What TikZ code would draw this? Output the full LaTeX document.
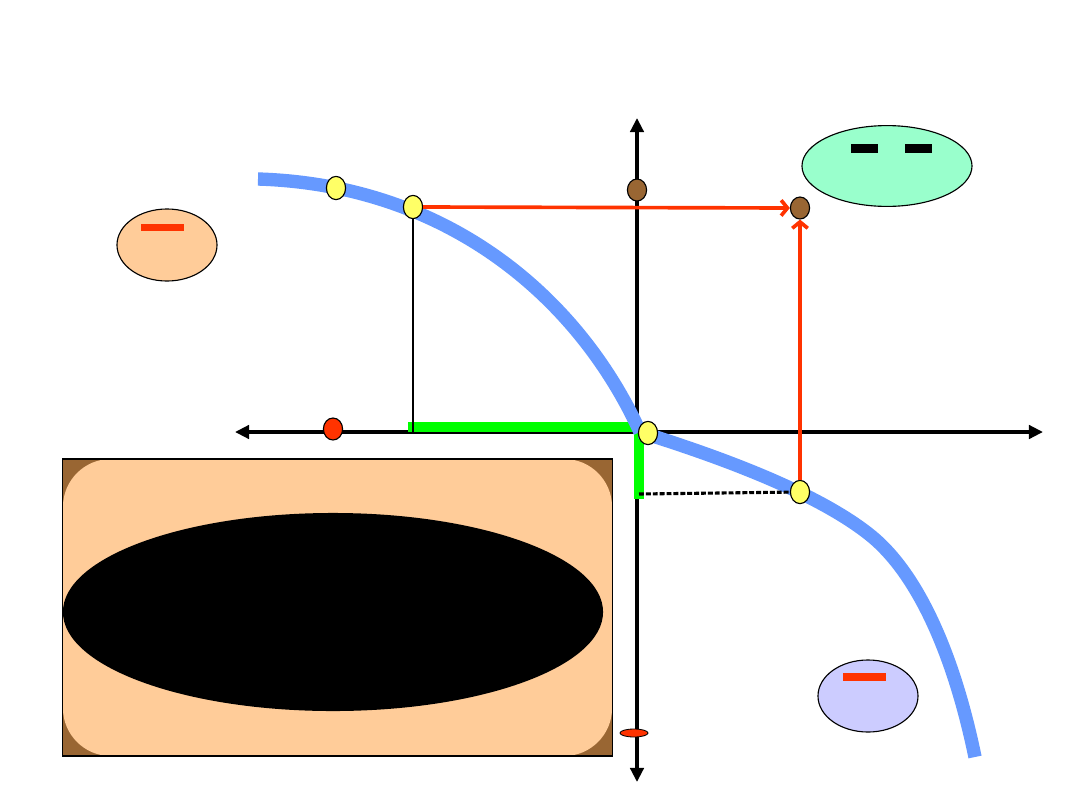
\documentclass[tikz,border=0pt]{standalone}
\usepackage{tikz}
\usepackage{xcolor}
\usetikzlibrary{arrows.meta,shapes.geometric}
\definecolor{CurveBlue}{HTML}{6699FF}
\definecolor{DotYellow}{HTML}{FFFF66}
\definecolor{DotBrown}{HTML}{996633}
\definecolor{LineRed}{HTML}{FF3300}
\definecolor{PathGreen}{HTML}{00FF00}
\definecolor{MintFill}{HTML}{99FFCC}
\definecolor{PeachFill}{HTML}{FFCC99}
\definecolor{LilacFill}{HTML}{CCCCFF}

\begin{document}
\begin{tikzpicture}[
    x=0.025cm,y=-0.025cm,
    axis/.style={{Triangle[length=10pt,width=9.5pt]}-{Triangle[length=10pt,width=9.5pt]},
      line width=2.4pt,draw=black},
    curve/.style={draw=CurveBlue,line width=9.5pt,line join=round},
    gpath/.style={draw=PathGreen,line width=7.6pt,line join=miter},
    rarrow/.style={-{Straight Barb[length=4.5pt,width=11pt]},draw=LineRed,line width=2.6pt},
    drop/.style={draw=black,line width=1.4pt},
    dashline/.style={draw=black,line width=2.2pt,dash pattern=on 3.5pt off 1.4pt},
    dot/.style={ellipse,draw=black,line width=0.8pt,inner sep=0pt,
      minimum width=0.48cm,minimum height=0.58cm},
    ydot/.style={dot,fill=DotYellow},
    bdot/.style={dot,fill=DotBrown,minimum height=0.55cm},
    rdot/.style={dot,fill=LineRed,minimum height=0.55cm},
    blob/.style={ellipse,draw=black,line width=0.8pt,inner sep=0pt},
    bar/.style={rectangle,inner sep=0pt,minimum height=0.2cm}
  ]
    \useasboundingbox (0,0) rectangle (1080,810);

    \node[rectangle,fill=DotBrown,inner sep=0pt,minimum width=13.725cm,minimum height=7.425cm] (panel) at (337.5,607.5) {};
    \node[rectangle,fill=PeachFill,rounded corners=1.2cm,inner sep=0pt,minimum width=13.725cm,minimum height=7.425cm] (inner) at (337.5,607.5) {};
    \node[ellipse,fill=black,inner sep=0pt,minimum width=13.5cm,minimum height=4.95cm] (hole) at (333,612) {};
    \draw[line width=1.2pt] (panel.north west) rectangle (panel.south east);

    \coordinate (west) at (235,432);
    \coordinate (east) at (1043,432);
    \coordinate (north) at (637,118);
    \coordinate (south) at (637,782);
    \draw[axis] (west) -- (east);
    \draw[axis] (north) -- (south);

    \coordinate (gA) at (408,427);
    \coordinate (gO) at (639,427);
    \coordinate (gB) at (639,499);
    \draw[gpath] (gA) -- (gO) -- (gB);

    \draw[curve] (258,179) .. controls (450,185) and (580,300) .. (640,432);
    \draw[curve] (640,432) .. controls (730,460) and (820,495) .. (870,535)
      .. controls (920,575) and (955,660) .. (975,757);

    \node[ydot] (ptA) at (336,188) {};
    \node[ydot] (ptB) at (413,207) {};
    \node[ydot] (ptC) at (648,433) {};
    \node[ydot] (ptD) at (800,492) {};
    \node[bdot] (brownA) at (637,190) {};
    \node[bdot] (brownB) at (800,208) {};
    \node[rdot] (redA) at (333,429) {};
    \node[ellipse,draw=black,line width=0.6pt,fill=LineRed,inner sep=0pt,minimum width=0.7cm,minimum height=0.2cm] (redB) at (634,733) {};

    \coordinate (footB) at (413,432);
    \coordinate (dashA) at (639,494);
    \draw[drop] (ptB) -- (footB);
    \draw[dashline] (dashA) -- (ptD);
    \draw[rarrow] (ptB.east) -- (brownB.west);
    \draw[rarrow] (ptD) -- (brownB);

    \node[blob,fill=MintFill,minimum width=4.25cm,minimum height=2.02cm] (mint) at (887,166) {};
    \node[bar,fill=black,minimum width=0.68cm,minimum height=0.22cm] (barA) at (864.5,148.5) {};
    \node[bar,fill=black,minimum width=0.68cm,minimum height=0.22cm] (barB) at (918.5,148.5) {};
    \node[blob,fill=PeachFill,minimum width=2.5cm,minimum height=1.8cm] (peach) at (167,245) {};
    \node[bar,fill=LineRed,minimum width=1.08cm,minimum height=0.18cm] (barC) at (162.5,227.5) {};
    \node[blob,fill=LilacFill,minimum width=2.5cm,minimum height=1.8cm] (lilac) at (868,696) {};
    \node[bar,fill=LineRed,minimum width=1.08cm,minimum height=0.18cm] (barD) at (864.5,677) {};
  \end{tikzpicture}
\end{document}
